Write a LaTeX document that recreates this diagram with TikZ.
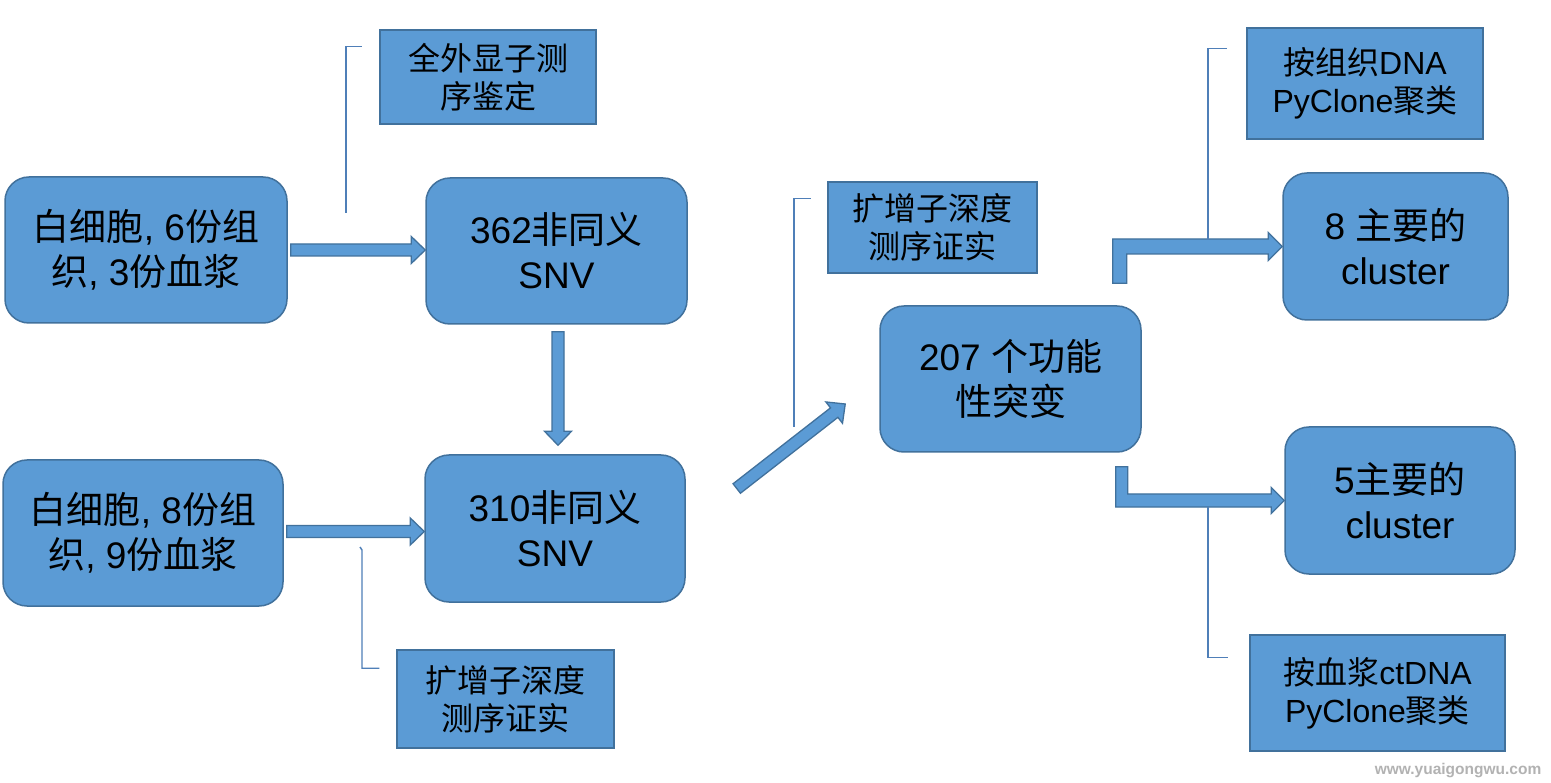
\documentclass[tikz,border=0pt]{standalone}
\usepackage{fontspec}
\setmainfont{Noto Sans CJK SC}
\newfontfamily\latf{Liberation Sans}
\usetikzlibrary{calc}
\definecolor{boxfill}{HTML}{5B9BD5}
\definecolor{boxline}{HTML}{41719C}
\definecolor{calline}{HTML}{4F7FB8}
\newcommand\Lat[1]{{\latf #1}}
\newcommand\blockarrow[2]{%
  \coordinate (ba-s) at #1;
  \coordinate (ba-e) at #2;
  \coordinate (ba-h) at ($(ba-e)!14pt!(ba-s)$);
  \draw[barrowstyle] ($(ba-s)!6pt!90:(ba-e)$) -- ($(ba-h)!6pt!90:(ba-e)$) -- ($(ba-h)!13.5pt!90:(ba-e)$) -- (ba-e) -- ($(ba-h)!13.5pt!-90:(ba-e)$) -- ($(ba-h)!6pt!-90:(ba-e)$) -- ($(ba-s)!6pt!-90:(ba-e)$) -- cycle;}
\tikzset{
  rbox/.style={draw=boxline, fill=boxfill, line width=1.5pt, rounded corners=24pt, align=center, inner sep=0pt, font=\fontsize{37}{45}\selectfont},
  tbox/.style={draw=boxline, fill=boxfill, line width=1.5pt, align=center, inner sep=0pt, font=\fontsize{32}{38}\selectfont},
  callout/.style={draw=calline, line width=1.4pt},
  barrowstyle/.style={draw=boxline, fill=boxfill, line width=1.3pt, line join=miter},
}
\begin{document}
\begin{tikzpicture}[x=1pt, y=-1pt]
\fill[white] (0,0) rectangle (1551,783);
\useasboundingbox (0,0) rectangle (1551,783);

% main rounded boxes
\node[rbox, minimum width=282, minimum height=146] (a1) at (146,250) {白细胞\Lat{, 6}份组\\织\Lat{, 3}份血浆};
\node[rbox, minimum width=261, minimum height=146] (a2) at (556.5,251) {\Lat{362}非同义\\\Lat{SNV}};
\node[rbox, minimum width=280, minimum height=146] (b1) at (143,533) {白细胞\Lat{, 8}份组\\织\Lat{, 9}份血浆};
\node[rbox, minimum width=260, minimum height=147] (b2) at (555,528.5) {\Lat{310}非同义\\\Lat{SNV}};
\node[rbox, minimum width=261, minimum height=146] (c) at (1010.5,379) {\Lat{207 }个功能\\性突变};
\node[rbox, minimum width=225, minimum height=147] (d1) at (1395.5,246.5) {\Lat{8 }主要的\\\Lat{cluster}};
\node[rbox, minimum width=230, minimum height=147] (d2) at (1400,500.5) {\Lat{5}主要的\\\Lat{cluster}};

% text boxes
\node[tbox, minimum width=216, minimum height=94] (t1) at (488,77) {全外显子测\\序鉴定};
\node[tbox, minimum width=209, minimum height=91] (t2) at (932.5,227.5) {扩增子深度\\测序证实};
\node[tbox, minimum width=236, minimum height=111] (t3) at (1365,83.5) {按组织\Lat{DNA}\\\Lat{PyClone}聚类};
\node[tbox, minimum width=255, minimum height=116] (t4) at (1377.5,693) {按血浆\Lat{ctDNA}\\\Lat{PyClone}聚类};
\node[tbox, minimum width=217, minimum height=98] (t5) at (505.5,699) {扩增子深度\\测序证实};

% block arrows
\blockarrow{($(a1.east)+(3,0)$)}{(a1.east -| a2.west)}
\blockarrow{($(b1.east)+(3,-1.5)$)}{($(b2.west)+(0,3)$)}
\blockarrow{($(a2.south)+(1.5,7)$)}{($(b2.north)+(3,-9)$)}
\blockarrow{($(b2.east)+(51,-40)$)}{($(c.west)+(-34,25)$)}

% elbow arrows
\coordinate (e1s) at ($(c.north east)+(-22,-22)$);
\coordinate (e1b) at (e1s |- d1.west);
\draw[barrowstyle] ($(e1s)+(-7,0)$) -- ($(e1b)+(-7,-7.5)$) -- ($(d1.west)+(-14,-7.5)$) -- ($(d1.west)+(-14,-14)$) -- (d1.west) -- ($(d1.west)+(-14,14)$) -- ($(d1.west)+(-14,7.5)$) -- ($(e1b)+(7,7.5)$) -- ($(e1s)+(7,0)$) -- cycle;
\coordinate (e2s) at ($(c.south east)+(-20,14)$);
\coordinate (e2b) at (e2s |- d2.west);
\draw[barrowstyle] ($(e2s)+(-6,0)$) -- ($(e2b)+(-6,6.5)$) -- ($(d2.west)+(-13,6.5)$) -- ($(d2.west)+(-13,13)$) -- (d2.west) -- ($(d2.west)+(-13,-13)$) -- ($(d2.west)+(-13,-6.5)$) -- ($(e2b)+(6,-6.5)$) -- ($(e2s)+(6,0)$) -- cycle;

% callout brackets
\coordinate (k1) at (346,213);
\draw[callout] (k1) |- ($(t1.north west)+(-17,17)$);
\coordinate (k2) at (794,427);
\draw[callout] (k2) |- ($(t2.north west)+(-16,17)$);
\coordinate (k3) at (1208,240);
\draw[callout] (k3) |- ($(t3.north west)+(-19,21)$);
\coordinate (k4) at (1208,507);
\draw[callout] (k4) |- ($(t4.north west)+(-21,23)$);
\coordinate (k5) at (360,547);
\coordinate (k5b) at (362,550);
\draw[callout] (k5) -- (k5b) |- ($(t5.north west)+(-17,19)$);

% watermark
\node[text=black!30, font=\latf\bfseries\fontsize{15.5}{16}\selectfont, inner sep=0pt] (wm) at (1458,771) {www.yuaigongwu.com};
\end{tikzpicture}
\end{document}
